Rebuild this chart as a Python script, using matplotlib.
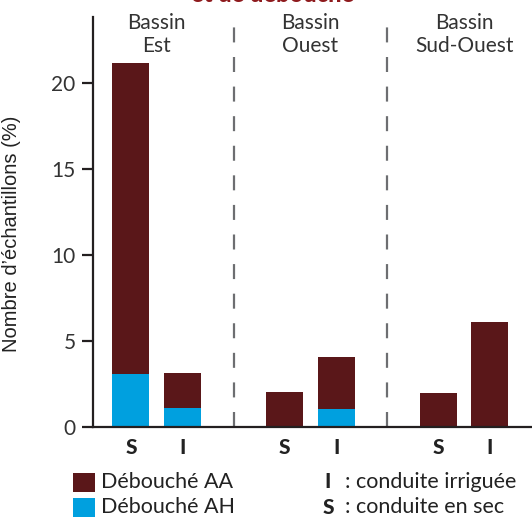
import numpy as np
import matplotlib.pyplot as plt
from matplotlib.patches import Rectangle

# Data
bassins = ["Bassin\nEst", "Bassin\nOuest", "Bassin\nSud-Ouest"]
conduites = ["S", "I"]
ah_values = [3.1, 1.1, 0.0, 1.05, 0.0, 0.0]      # Débouché AH (bottom)
total_values = [21.2, 3.15, 2.05, 4.05, 2.0, 6.1]  # AA + AH
legend_labels = ["Débouché AA", "Débouché AH"]
code_labels = [("I", ": conduite irriguée"), ("S", ": conduite en sec")]

AA_COLOR = "#5a1719"
AH_COLOR = "#00a0df"
DARK = "#231f20"
FONT = ["Lato", "DejaVu Sans"]

plt.rcParams["font.family"] = FONT
plt.rcParams["lines.scale_dashes"] = False

W, H = 532, 517
fig = plt.figure(figsize=(W / 100, H / 100), dpi=100)
ax = fig.add_axes([93 / W, 1 - 427 / H, 1 - 93 / W, (427 - 17) / H])

group_x = np.arange(len(bassins)) * 3.0
x = np.array([g + off for g in group_x for off in (-0.5, 0.5)])
ah = np.array(ah_values)
aa = np.array(total_values) - ah

ax.bar(x, ah, width=0.72, color=AH_COLOR, linewidth=0)
ax.bar(x, aa, width=0.72, bottom=ah, color=AA_COLOR, linewidth=0)

ax.set_xlim(-1.24, 7.32)
ax.set_ylim(0, 23.87)

# dashed separators between basins
for sx in (group_x[:-1] + group_x[1:]) / 2:
    ax.axvline(sx, color="#6d6e71", lw=1.6, linestyle=(0, (10.8, 10.5)), zorder=0)

# basin names on top
for gx, name in zip(group_x, bassins):
    ax.text(gx, 1.01, name, transform=ax.get_xaxis_transform(), ha="center",
            va="top", fontsize=15, color="#333333", linespacing=1.2)

for s in ("top", "right"):
    ax.spines[s].set_visible(False)
for s in ("left", "bottom"):
    ax.spines[s].set_linewidth(1.6)
    ax.spines[s].set_color(DARK)

ax.set_yticks([0, 5, 10, 15, 20])
ax.tick_params(axis="y", length=8, width=1.6, color=DARK, pad=4.5,
               labelsize=15, labelcolor="#333333")
ax.set_xticks(x)
ax.set_xticklabels(conduites * len(bassins), fontweight="black", fontsize=15)
ax.tick_params(axis="x", length=0, pad=8, labelcolor="#222222")

ax.set_ylabel("Nombre d’échantillons (%)", fontsize=14.5, family=["Liberation Sans"],
              color="#222222")
ax.yaxis.set_label_coords(-0.165, 0.47)

# cut title at the very top (only its lower edge is visible in the source)
fig.text(273 / W, 1 - 2 / H, "et de débouché", ha="center", va="baseline",
         fontsize=17, fontweight="black", color="#8e1a1d")

# legend (colour boxes)
for i, (lab, col) in enumerate(zip(legend_labels, [AA_COLOR, AH_COLOR])):
    yc = 482 + i * 25
    fig.add_artist(Rectangle((73 / W, 1 - (yc + 9.5) / H), 22 / W, 19 / H,
                             transform=fig.transFigure, color=col, lw=0))
    fig.text(101 / W, 1 - yc / H, lab, va="center", ha="left", fontsize=15.5,
             color="#222222")

# legend (codes)
for i, (code, desc) in enumerate(code_labels):
    yc = 482 + i * 25
    fig.text(328 / W, 1 - yc / H, code, va="center", ha="center", fontsize=15,
             fontweight="black", color="#222222")
    fig.text(345 / W, 1 - yc / H, desc, va="center", ha="left", fontsize=15.5,
             color="#222222")

fig.savefig("out.png", dpi=100)
